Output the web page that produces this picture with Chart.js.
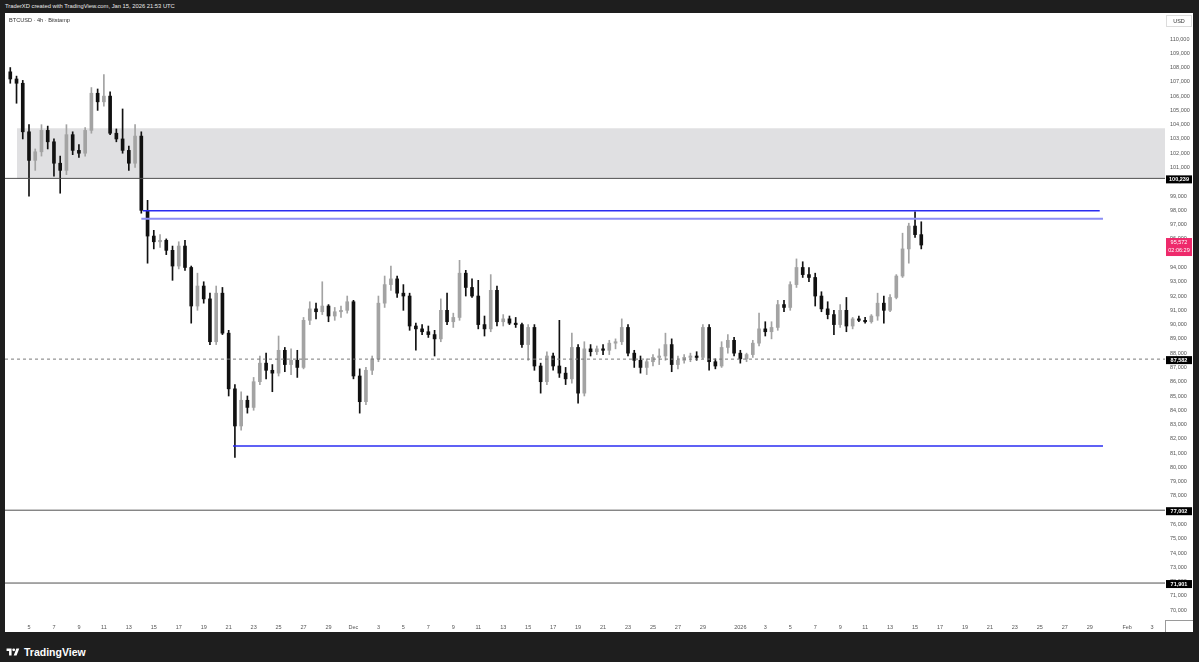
<!DOCTYPE html>
<html><head><meta charset="utf-8">
<script src="https://cdn.jsdelivr.net/npm/chart.js@4.4.1/dist/chart.umd.min.js"></script>
<style>
html,body{margin:0;padding:0;background:#1e1e1e;width:1199px;height:662px;overflow:hidden;font-family:"Liberation Sans",Arial,sans-serif;}
#hdr{position:absolute;left:5px;top:0;height:13px;line-height:13px;color:#e8e8e8;font-size:5.8px;white-space:nowrap;}
#panel{position:absolute;left:5px;top:13px;width:1188px;height:619px;background:#fff;}
#sym{position:absolute;left:9px;top:17px;font-size:5.6px;color:#333;z-index:2;white-space:nowrap;}
#logo{position:absolute;left:6px;top:645px;height:14px;display:flex;align-items:center;color:#fff;font-weight:bold;font-size:10.5px;}
#logo svg{margin-right:4px}
canvas{display:block}
</style>
</head><body>
<div id="hdr">TraderXD created with TradingView.com, Jan 15, 2026 21:53 UTC</div>
<div id="panel"><canvas id="c" width="1188" height="619"></canvas></div>
<div id="sym">BTCUSD · 4h · Bitstamp</div>
<div id="logo"><svg width="14" height="10" viewBox="0 0 36 28"><path d="M14 24H7V11H0V4h14v20z" fill="#fff"/><circle cx="20" cy="8" r="4" fill="#fff"/><path d="M28 24h-8l7.5-20h8L28 24z" fill="#fff"/></svg>TradingView</div>
<script>
// time in days since Nov 1 2025 00:00 (12h candles)
const candleTimes = [2.5,3,3.5,4,4.5,5,5.5,6,6.5,7,7.5,8,8.5,9,9.5,10,10.5,11,11.5,12,12.5,13,13.5,14,14.5,15,15.5,16,16.5,17,17.5,18,18.5,19,19.5,20,20.5,21,21.5,22,22.5,23,23.5,24,24.5,25,25.5,26,26.5,27,27.5,28,28.5,29,29.5,30,30.5,31,31.5,32,32.5,33,33.5,34,34.5,35,35.5,36,36.5,37,37.5,38,38.5,39,39.5,40,40.5,41,41.5,42,42.5,43,43.5,44,44.5,45,45.5,46,46.5,47,47.5,48,48.5,49,49.5,50,50.5,51,51.5,52,52.5,53,53.5,54,54.5,55,55.5,56,56.5,57,57.5,58,58.5,59,59.5,60,60.5,61,61.5,62,62.5,63,63.5,64,64.5,65,65.5,66,66.5,67,67.5,68,68.5,69,69.5,70,70.5,71,71.5,72,72.5,73,73.5,74,74.5,75,75.5];
const opens = [107700,107200,106900,103500,101500,102100,103600,102800,101300,100800,103300,102200,102000,103600,106200,105600,106000,103400,103000,102200,101300,103200,98000,96200,95800,95900,95200,94100,95500,94000,91300,92700,91800,88800,92200,89400,85500,82900,84700,84200,86000,87300,86800,86600,88200,87200,87500,87000,90300,91100,90900,91300,90600,90900,91000,91600,86400,84600,86800,87600,91500,92800,93200,92200,92000,89900,89700,89500,89300,89000,91000,90200,90500,93600,92600,92000,90000,89700,92400,90200,90400,90100,90000,88600,89800,87100,86000,87800,87100,86600,86200,88400,85200,88300,88100,88300,88200,88700,88800,89800,88000,87500,87000,87400,87700,87800,88600,87200,87500,87700,87800,87700,89800,87400,87100,88400,88900,88000,87600,87900,88700,89700,89500,89800,91400,91200,92800,94000,93500,93300,92000,91100,90700,90000,91000,89900,90400,90300,90200,90600,91500,91000,91900,93400,95300,96900,96300];
const highs = [108000,107400,107100,104000,102300,104000,103900,103000,101800,104000,103500,102600,103800,106600,106500,107500,106300,103700,105100,102500,104000,103500,98700,96600,96300,96000,95500,95800,95900,94100,93600,93000,92200,92700,92600,89600,85800,85300,85000,86300,87800,88000,87200,89200,88400,88300,88200,90500,91600,91500,93000,91400,91200,91300,92000,91700,86900,87000,87800,92000,93400,94100,93400,92800,92200,90100,90000,89900,89600,91800,92200,90800,94500,93800,93200,93100,90600,93500,92700,90700,90600,90500,90100,90000,90000,87300,88100,88000,90300,87000,89400,88600,88800,88600,88500,88600,88900,89000,90400,90000,88200,87800,87600,87900,88300,89400,89000,87800,87900,88000,88100,90000,90000,87600,88800,89300,89100,88200,88000,88900,90800,90200,90200,91700,91700,93000,94600,94400,94000,93600,92300,91600,91000,91400,91900,90500,90600,90500,90700,92200,92000,92100,93500,96400,97100,97900,97200];
const lows = [106900,105500,103000,99000,100800,101800,102300,100400,99200,100500,101900,101700,101800,103400,105000,105300,103300,102800,102000,100800,101000,97800,94300,95300,95400,94900,93100,93900,93800,90100,91000,91500,88600,88600,89300,85000,80700,82600,83800,84000,85800,86200,85300,86400,86700,86500,86300,86900,90000,90400,90700,90200,90300,90500,90800,86200,83800,84400,86500,87400,91200,92400,91900,91000,89600,88200,89300,89100,87800,88800,90000,89800,90300,92000,91900,89700,89200,89500,89900,89900,90000,89800,88400,87500,86800,85200,85800,86800,86300,85800,85900,84500,85000,87800,87900,87900,87900,88300,88600,87800,87000,86600,86500,87100,87200,87500,86700,86900,87300,87400,87500,87600,86800,86900,87000,88000,87800,87300,87400,87700,88500,89200,89000,89600,90900,91000,92600,93300,93000,91300,90900,90400,89300,89800,89500,89700,90200,90100,90100,90300,90100,90900,91800,93300,94300,96100,95300];
const closes = [107200,106900,103500,101500,102100,103600,102800,101300,100800,103300,102200,102000,103600,106200,105600,106000,103400,103000,102200,101300,103200,98000,96200,95800,95900,95200,94100,95500,94000,91300,92700,91800,88800,92200,89400,85500,82900,84700,84200,86000,87300,86800,86600,88200,87200,87500,87000,90300,91100,90900,91300,90600,90900,91000,91600,86400,84600,86800,87600,91500,92800,93200,92200,92000,89900,89700,89500,89300,89000,91000,90200,90500,93600,92600,92000,90000,89700,92400,90200,90400,90100,90000,88600,89800,87100,86000,87800,87100,86600,86200,88400,85200,88300,88100,88300,88200,88700,88800,89800,88000,87500,87000,87400,87700,87800,88600,87200,87500,87700,87800,87700,89800,87400,87100,88400,88900,88000,87600,87900,88700,89700,89500,89800,91400,91200,92800,94000,93500,93300,92000,91100,90700,90000,91000,89900,90400,90300,90200,90600,91500,91000,91900,93400,95300,96900,96300,95572];

// x-axis ticks (days since Nov 1) and labels
const xTickDays = [4,6,8,10,12,14,16,18,20,22,24,26,28,30,32,34,36,38,40,42,44,46,48,50,52,54,56,58,61,63,65,67,69,71,73,75,77,79,81,83,85,87,89,92,94];
const xTickLabels = ['5','7','9','11','13','15','17','19','21','23','25','27','29','Dec','3','5','7','9','11','13','15','17','19','21','23','25','27','29','2026','3','5','7','9','11','13','15','17','19','21','23','25','27','29','Feb','3'];
const yTickValues = [70000,71000,72000,73000,74000,75000,76000,77000,78000,79000,80000,81000,82000,83000,84000,85000,86000,87000,88000,89000,90000,91000,92000,93000,94000,95000,96000,97000,98000,99000,100000,101000,102000,103000,104000,105000,106000,107000,108000,109000,110000];

// drawn levels
const zoneTop = 103750, zoneBottom = 100239, zoneStartDay = 3.04;
const fullLevels = [100239, 77002, 71901];
const dashedLevel = 87582;
const blueLevels = [97975, 81498];
const blueStarts = [13.13, 20.35];
const blueEnds = [89.8, 90.06];
const lightBlueLevel = 97415, lightBlueStart = 13.0, lightBlueEnd = 90.06;
const priceTags = [100239, 87582, 77002, 71901];
const lastPrice = 95572, countdown = '02:06:29';

const X_MIN = 2.077, X_MAX = 95.03, Y_MIN = 69313, Y_MAX = 111820;
const UP = '#a3a3a3', DOWN = '#111111';
const fmt = v => v.toLocaleString('en-US');
const isUp = candleTimes.map((t,i) => closes[i] >= opens[i]);

const hline = (y, a, b) => [{x:a, y}, {x:b, y}];
const datasets = [
  {type:'line', data:hline(zoneTop, zoneStartDay, X_MAX), fill:{value:zoneBottom}, backgroundColor:'#e0e0e2', borderWidth:0, borderColor:'rgba(0,0,0,0)', pointRadius:0, order:30},
  {type:'bar', data:candleTimes.map((t,i)=>({x:t, y:[lows[i], highs[i]]})), backgroundColor:isUp.map(u=>u?UP:DOWN), barThickness:1, grouped:false, order:20},
  {type:'bar', data:candleTimes.map((t,i)=>({x:t, y:[opens[i], closes[i]]})), backgroundColor:isUp.map(u=>u?UP:DOWN), barThickness:3, minBarLength:1, grouped:false, order:19},
  ...fullLevels.map(v=>({type:'line', data:hline(v, X_MIN, X_MAX), borderColor:'#505050', borderWidth:1, pointRadius:0, order:5})),
  {type:'line', data:hline(dashedLevel, X_MIN, X_MAX), borderColor:'#7a7a7a', borderWidth:1, borderDash:[3,3], pointRadius:0, order:5},
  {type:'line', data:hline(lightBlueLevel, lightBlueStart, lightBlueEnd), borderColor:'#8c8ef5', borderWidth:2, pointRadius:0, order:4},
  ...blueLevels.map((v,i)=>({type:'line', data:hline(v, blueStarts[i], blueEnds[i]), borderColor:'#2a2cf2', borderWidth:1.4, pointRadius:0, order:3}))
];

const overlay = {
  id:'overlay',
  afterDraw(chart){
    const {ctx, chartArea:a, scales:{y}} = chart;
    const W = chart.width, H = chart.height;
    ctx.save();
    ctx.strokeStyle = '#9a9a9a'; ctx.lineWidth = 1;
    ctx.beginPath();
    ctx.moveTo(Math.round(a.right)+0.5, a.bottom); ctx.lineTo(Math.round(a.right)+0.5, H);
    ctx.moveTo(a.right, Math.round(a.bottom)+0.5); ctx.lineTo(W, Math.round(a.bottom)+0.5);
    ctx.stroke();
    const bx = a.right + 1, bw = W - a.right - 2;
    ctx.fillStyle = '#fff'; ctx.fillRect(bx, 1, bw, 14);
    ctx.strokeStyle = '#dcdcdc'; ctx.strokeRect(bx + 0.5, 2.5, bw - 1, 11);
    ctx.fillStyle = '#333'; ctx.font = '5.5px "Liberation Sans", Arial, sans-serif';
    ctx.textAlign = 'center'; ctx.textBaseline = 'middle';
    ctx.fillText('USD', bx + bw/2, 8.5);
    ctx.font = 'bold 5.5px "Liberation Sans", Arial, sans-serif';
    priceTags.forEach(v=>{
      const py = y.getPixelForValue(v);
      ctx.fillStyle = '#000'; ctx.fillRect(bx, py - 3, bw, 8);
      ctx.fillStyle = '#fff'; ctx.fillText(fmt(v), bx + bw/2, py + 1.2);
    });
    const lp = y.getPixelForValue(lastPrice);
    ctx.fillStyle = '#ee2a6b'; ctx.fillRect(bx, lp - 7, bw, 18);
    ctx.fillStyle = '#fff';
    ctx.font = '5.5px "Liberation Sans", Arial, sans-serif';
    ctx.fillText(fmt(lastPrice), bx + bw/2, lp - 2.5);
    ctx.fillText(countdown, bx + bw/2, lp + 5.8);
    ctx.restore();
  }
};

Chart.defaults.font.family = '"Liberation Sans", Arial, sans-serif';
new Chart(document.getElementById('c'), {
  type:'bar',
  data:{datasets},
  options:{
    responsive:false, animation:false, maintainAspectRatio:false,
    layout:{padding:0, autoPadding:false},
    plugins:{legend:{display:false}, tooltip:{enabled:false}},
    scales:{
      x:{type:'linear', min:X_MIN, max:X_MAX, offset:false,
         grid:{display:false, drawTicks:false, offset:false},
         border:{display:false},
         ticks:{autoSkip:false, maxRotation:0, padding:4, color:'#555', font:{size:5.5},
                callback:(v,i)=>xTickLabels[i]},
         afterBuildTicks:s=>{ s.ticks = xTickDays.map(v=>({value:v})); },
         afterFit:s=>{ s.height = 12; s.paddingLeft = 0; s.paddingRight = 0; }},
      y:{type:'linear', position:'right', min:Y_MIN, max:Y_MAX,
         grid:{display:false, drawTicks:false},
         border:{display:false},
         ticks:{padding:5, crossAlign:'near', color:'#555', font:{size:5.5}, callback:v=>fmt(v)},
         afterBuildTicks:s=>{ s.ticks = yTickValues.map(v=>({value:v})); },
         afterFit:s=>{ s.height = s.height; s.width = 28; s.paddingTop = 0; s.paddingBottom = 0; }}
    }
  },
  plugins:[overlay]
});
</script>
</body></html>
